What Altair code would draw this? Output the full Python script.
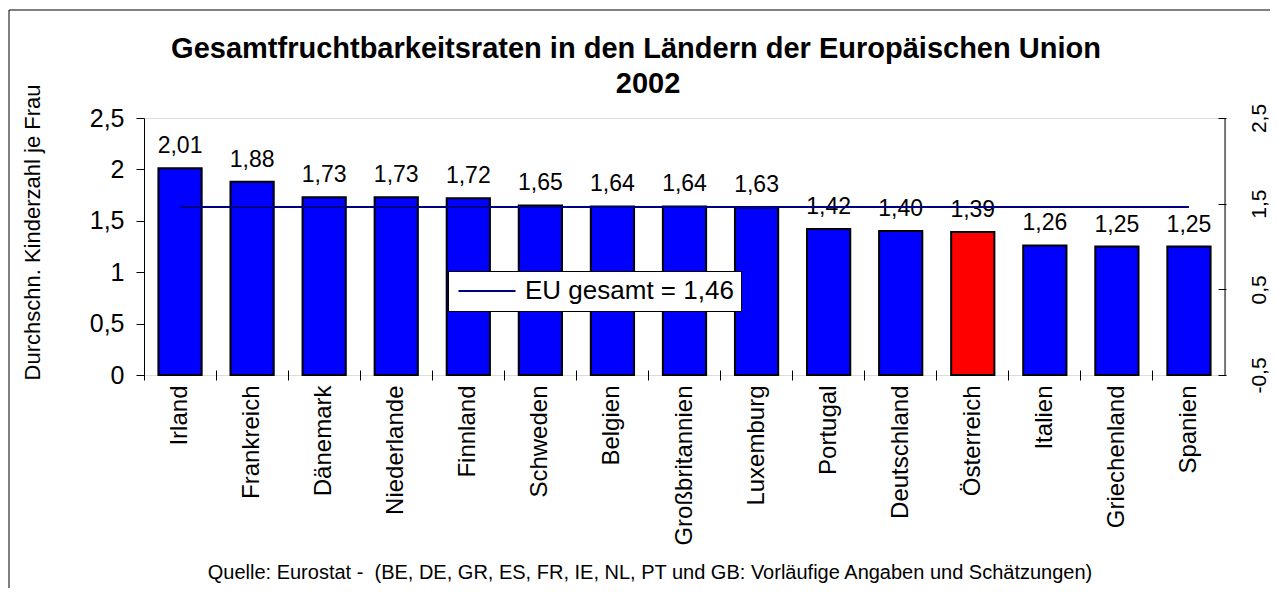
import altair as alt
import pandas as pd

countries = ["Irland", "Frankreich", "Dänemark", "Niederlande", "Finnland", "Schweden",
             "Belgien", "Großbritannien", "Luxemburg", "Portugal", "Deutschland",
             "Österreich", "Italien", "Griechenland", "Spanien"]
rates = [2.01, 1.88, 1.73, 1.73, 1.72, 1.65, 1.64, 1.64, 1.63, 1.42, 1.40, 1.39, 1.26, 1.25, 1.25]
highlight = ["Österreich"]
eu_value = 1.46
eu_label = "EU gesamt = 1,46"
left_ticks = [0, 0.5, 1, 1.5, 2, 2.5]
right_ticks = [-0.5, 0.5, 1.5, 2.5]
title_line1 = "Gesamtfruchtbarkeitsraten in den Ländern der Europäischen Union"
title_line2 = "2002"
y_title = "Durchschn. Kinderzahl je Frau"
source_note = "Quelle: Eurostat -\u00a0 (BE, DE, GR, ES, FR, IE, NL, PT und GB: Vorläufige Angaben und Schätzungen)"

W, H = 1081, 257
FONT = "Liberation Sans"

df = pd.DataFrame({
    "land": countries,
    "rate": rates,
    "group": ["hl" if c in highlight else "std" for c in countries],
    "eu": [eu_value] * len(countries),
    "serie": [eu_label] * len(countries),
})

x_enc = alt.X(
    "land:N", sort=countries,
    scale=alt.Scale(paddingInner=0, paddingOuter=0),
    axis=alt.Axis(title=None, labelAngle=270, labelFontSize=24, labelFont=FONT,
                  labelColor="black", labelAlign="right", labelBaseline="middle",
                  bandPosition=0, tickSize=10, offset=-5,
                  domain=False, tickColor="black", tickWidth=1, labelPadding=5,
                  labelOverlap=False),
)

left_scale = alt.Scale(domain=[0, 2.5], nice=False, zero=True)

bars = alt.Chart(df).mark_bar(
    width=alt.RelativeBandSize(0.6), stroke="black", strokeWidth=2
).encode(
    x=x_enc,
    y=alt.Y("rate:Q", scale=left_scale,
            axis=alt.Axis(values=left_ticks, grid=False,
                          labelExpr="replace(format(datum.value, '~g'), '.', ',')",
                          labelFontSize=25, labelFont=FONT, labelColor="black",
                          labelPadding=12, tickSize=8, tickColor="black",
                          domainColor="black", domainWidth=1,
                          title=y_title, titleFont=FONT, titleFontSize=22,
                          titleFontWeight="normal", titleColor="black",
                          titleAngle=270, titleX=-122, titleY=114,
                          titleAlign="center", titleBaseline="top")),
    color=alt.Color("group:N", scale=alt.Scale(domain=["std", "hl"], range=["#0000FF", "#FF0000"]),
                    legend=None),
)

labels = alt.Chart(df).transform_calculate(
    lbl="replace(format(datum.rate, '.2f'), '.', ',')"
).mark_text(baseline="alphabetic", dy=-15, fontSize=23, font=FONT, color="black").encode(
    x=alt.X("land:N", sort=countries),
    y=alt.Y("rate:Q", scale=left_scale),
    text="lbl:N",
)

left_layer = alt.layer(bars, labels)

line = alt.Chart(df).mark_line(strokeWidth=2).encode(
    x=alt.X("land:N", sort=countries),
    y=alt.Y("eu:Q", scale=alt.Scale(domain=[-0.5, 2.5], nice=False, zero=False),
            axis=alt.Axis(orient="right", values=right_ticks, grid=False,
                          labelExpr="replace(replace(format(datum.value, '.1f'), '.', ','), '\u2212', '-')",
                          labelFontSize=21, labelFont=FONT, labelColor="black",
                          labelAngle=270, labelAlign="center", labelBaseline="top",
                          labelPadding=22, tickSize=8, tickColor="black",
                          offset=-7, domain=False, title=None)),
    stroke=alt.Stroke("serie:N", scale=alt.Scale(range=["#000080"]),
                      legend=alt.Legend(title=None, orient="none", legendX=304, legendY=153,
                                        labelFontSize=26, labelFont=FONT, labelColor="black",
                                        labelLimit=500,
                                        symbolType="M-1,0H5", symbolSize=361,
                                        symbolStrokeWidth=2, strokeColor="black",
                                        fillColor="white", padding=7, labelOffset=44)),
)

frame_df = pd.DataFrame({"k": [0]})
right_edge = alt.Chart(frame_df).mark_rule(color="black", strokeWidth=1).encode(
    x=alt.value(W), y=alt.value(0), y2=alt.value(H))
top_border = alt.Chart(frame_df).mark_rule(color="black", strokeWidth=1).encode(
    x=alt.value(-135), x2=alt.value(W + 45), y=alt.value(-108))
left_border = alt.Chart(frame_df).mark_rule(color="black", strokeWidth=1).encode(
    x=alt.value(-135), y=alt.value(-108), y2=alt.value(H + 213))

title1 = alt.Chart(pd.DataFrame({"t": [title_line1]})).mark_text(
    fontSize=29, font=FONT, fontWeight="bold", color="black", align="center", baseline="alphabetic"
).encode(x=alt.value(492), y=alt.value(-60), text="t:N")
title2 = alt.Chart(pd.DataFrame({"t": [title_line2]})).mark_text(
    fontSize=29, font=FONT, fontWeight="bold", color="black", align="center", baseline="alphabetic"
).encode(x=alt.value(504), y=alt.value(-25), text="t:N")

footer = alt.Chart(pd.DataFrame({"t": [source_note]})).mark_text(
    fontSize=20, font=FONT, color="black", align="center", baseline="alphabetic"
).encode(x=alt.value(506), y=alt.value(461), text="t:N")

chart = alt.layer(left_layer, line, right_edge, top_border, left_border,
                  title1, title2, footer).resolve_scale(
    y="independent"
).properties(
    width=W, height=H,
    autosize=alt.AutoSizeParams(type="none"),
    padding={"left": 136, "top": 110, "right": 45, "bottom": 213},
).configure_view(stroke="#808080", strokeWidth=2).configure(background="white")

chart.save("out.html", embed_options={"renderer": "svg", "actions": False})
